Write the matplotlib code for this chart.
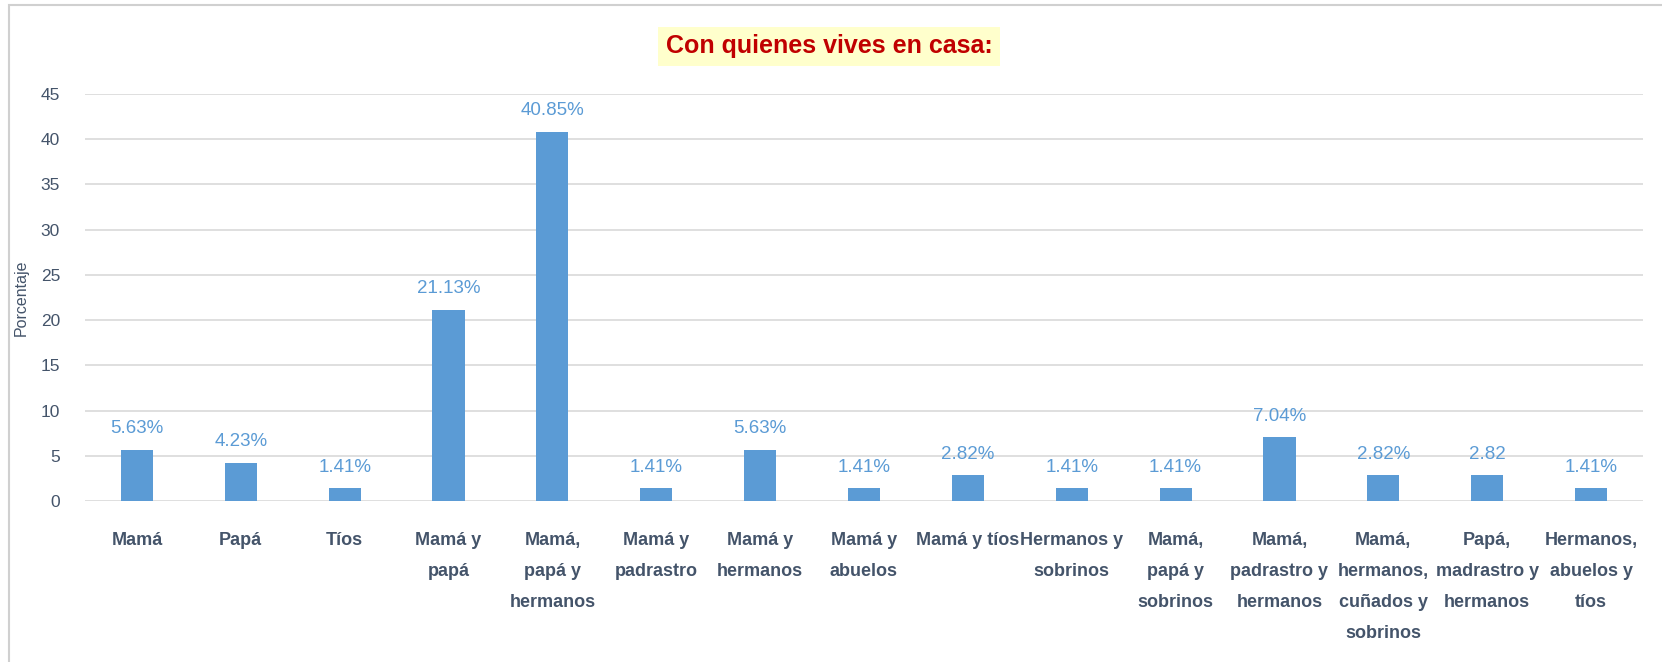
import matplotlib
matplotlib.use("Agg")
import matplotlib.pyplot as plt
from matplotlib.patches import Rectangle

categories = ["Mamá", "Papá", "Tíos", "Mamá y\npapá", "Mamá,\npapá y\nhermanos",
              "Mamá y\npadrastro", "Mamá y\nhermanos", "Mamá y\nabuelos", "Mamá y tíos",
              "Hermanos y\nsobrinos", "Mamá,\npapá y\nsobrinos", "Mamá,\npadrastro y\nhermanos",
              "Mamá,\nhermanos,\ncuñados y\nsobrinos", "Papá,\nmadrastro y\nhermanos",
              "Hermanos,\nabuelos y\ntíos"]
values = [5.63, 4.23, 1.41, 21.13, 40.85, 1.41, 5.63, 1.41, 2.82, 1.41, 1.41, 7.04, 2.82, 2.82, 1.41]
value_labels = ["5.63%", "4.23%", "1.41%", "21.13%", "40.85%", "1.41%", "5.63%", "1.41%",
                "2.82%", "1.41%", "1.41%", "7.04%", "2.82%", "2.82", "1.41%"]
yticks = [0, 5, 10, 15, 20, 25, 30, 35, 40, 45]

plt.rcParams["font.family"] = ["Liberation Sans", "DejaVu Sans"]

BAR = "#5B9BD5"
AXTXT = "#44546A"

fig = plt.figure(figsize=(16.62, 6.62), dpi=100)
fig.patches.append(Rectangle((9 / 1662, -0.1), 1.2, (662 - 5) / 662 + 0.1,
                             transform=fig.transFigure, fill=False,
                             edgecolor="#D0D0D0", lw=1.5, zorder=0))

ax = fig.add_axes([85 / 1662, 161 / 662, (1643 - 85) / 1662, (501 - 94) / 662])
x = range(len(categories))
ax.bar(x, values, width=0.31, color=BAR, zorder=3)
for xi, v, lab in zip(x, values, value_labels):
    ax.text(xi, v + 1.4, lab, ha="center", va="bottom", color=BAR, fontsize=13.5)

ax.set_xlim(-0.5, len(categories) - 0.5)
ax.set_ylim(0, 45)
ax.set_yticks(yticks)
ax.yaxis.grid(True, color="#D9D9D9", lw=1.2, zorder=0)
ax.tick_params(axis="y", length=0, labelsize=12.5, colors=AXTXT, pad=18)
ax.set_xticks(list(x))
ax.set_xticklabels(categories, fontsize=13, fontweight="bold", color=AXTXT,
                   linespacing=2.1, va="top")
ax.tick_params(axis="x", length=0, pad=22)
for s in ax.spines.values():
    s.set_visible(False)
ax.set_ylabel("Porcentaje", fontsize=11.5, color=AXTXT)
ax.yaxis.set_label_coords(-0.036, 0.5)

fig.text(829 / 1662, 1 - 46 / 662, "Con quienes vives en casa:", ha="center", va="center",
         fontsize=18, fontweight="bold", color="#C00000",
         bbox=dict(boxstyle="square,pad=0.3", facecolor="#FFFFCC", edgecolor="none"))

fig.savefig("out.png", dpi=100)
